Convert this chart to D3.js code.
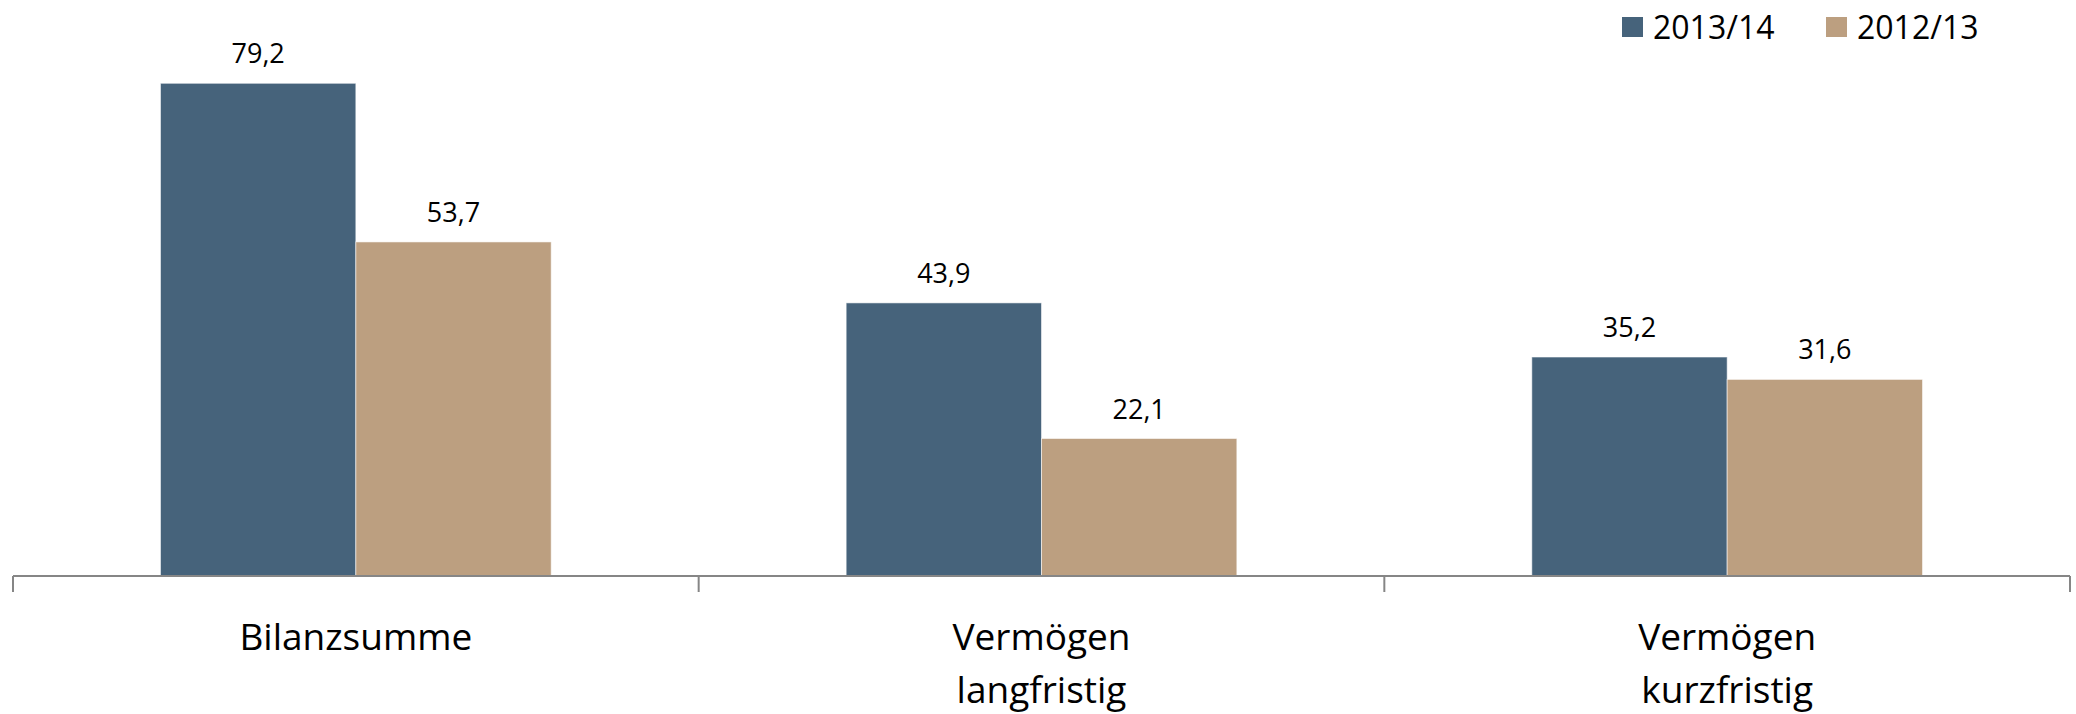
<!DOCTYPE html>
<html>
<head>
<meta charset="utf-8">
<script src="https://d3js.org/d3.v7.min.js"></script>
<style>
  body { margin: 0; background: #fff; }
  svg text { font-family: "Segoe UI", "Open Sans", sans-serif; fill: #000; }
</style>
</head>
<body>
<div id="chart"></div>
<script>
// chart data
var categories = ["Bilanzsumme", "Vermögen\nlangfristig", "Vermögen\nkurzfristig"];
var seriesNames = ["2013/14", "2012/13"];
var values1314 = [79.2, 43.9, 35.2];
var values1213 = [53.7, 22.1, 31.6];
var colors = ["#46637b", "#bc9f80"];

var width = 2076, height = 714;

var svg = d3.select("#chart").append("svg")
    .attr("width", width).attr("height", height);

// x scales: outer for category, inner for the two series
var x0 = d3.scaleBand().domain(categories).range([13, 2070]).padding(0);
var x1 = d3.scaleBand().domain(seriesNames).range([0, x0.bandwidth()])
    .paddingInner(0).paddingOuter(0.755);

var baseY = 576;
var y = d3.scaleLinear().domain([0, 90]).range([baseY, baseY - 90 * 6.221]);

var fmt = function (v) { return d3.format(".1f")(v).replace(".", ","); };

var rows = categories.map(function (c, i) {
    return { cat: c, vals: [values1314[i], values1213[i]] };
});

var groups = svg.selectAll("g.cat").data(rows).enter().append("g")
    .attr("class", "cat")
    .attr("transform", function (d) { return "translate(" + x0(d.cat) + ",0)"; });

var bars = groups.selectAll("g.bar").data(function (d) {
    return d.vals.map(function (v, j) { return { s: seriesNames[j], v: v, j: j }; });
}).enter().append("g").attr("class", "bar");

bars.append("rect")
    .attr("x", function (d) { return x1(d.s); })
    .attr("y", function (d) { return y(d.v); })
    .attr("width", x1.bandwidth())
    .attr("height", function (d) { return baseY - y(d.v); })
    .attr("fill", function (d) { return colors[d.j]; })
    .attr("stroke", "rgba(255,255,255,0.55)")
    .attr("stroke-width", 1);

// value labels
bars.append("text")
    .attr("x", function (d) { return x1(d.s) + x1.bandwidth() / 2; })
    .attr("y", function (d) { return y(d.v) - 20; })
    .attr("text-anchor", "middle")
    .style("font-size", "27px")
    .text(function (d) { return fmt(d.v); });

// axis line + ticks at category borders
var axisG = svg.append("g").attr("class", "axis");
axisG.append("line")
    .attr("x1", x0.range()[0]).attr("x2", x0.range()[1])
    .attr("y1", baseY).attr("y2", baseY)
    .attr("stroke", "#868686").attr("stroke-width", 2);

var tickPos = categories.map(function (c) { return x0(c); }).concat([x0.range()[1]]);
axisG.selectAll("line.tick").data(tickPos).enter().append("line")
    .attr("class", "tick")
    .attr("x1", function (d) { return d; }).attr("x2", function (d) { return d; })
    .attr("y1", baseY).attr("y2", baseY + 16)
    .attr("stroke", "#868686").attr("stroke-width", 2);

// category labels (multi-line)
var labels = axisG.selectAll("text.cat").data(categories).enter().append("text")
    .attr("class", "cat")
    .attr("text-anchor", "middle")
    .attr("x", function (d) { return x0(d) + x0.bandwidth() / 2; })
    .attr("y", 650)
    .style("font-size", "37px");

labels.selectAll("tspan").data(function (d) { return d.split("\n"); }).enter().append("tspan")
    .attr("x", function () { var p = this.parentNode; return d3.select(p).attr("x"); })
    .attr("dy", function (d, i) { return i === 0 ? 0 : 53; })
    .text(function (d) { return d; });

// legend
var legendX = [1622, 1826];
var legend = svg.selectAll("g.legend").data(seriesNames).enter().append("g")
    .attr("class", "legend")
    .attr("transform", function (d, i) { return "translate(" + legendX[i] + ",17)"; });

legend.append("rect")
    .attr("width", 21).attr("height", 20)
    .attr("fill", function (d, i) { return colors[i]; });

legend.append("text")
    .attr("x", 31).attr("y", 22)
    .style("font-size", "32px")
    .text(function (d) { return d; });
</script>
</body>
</html>
